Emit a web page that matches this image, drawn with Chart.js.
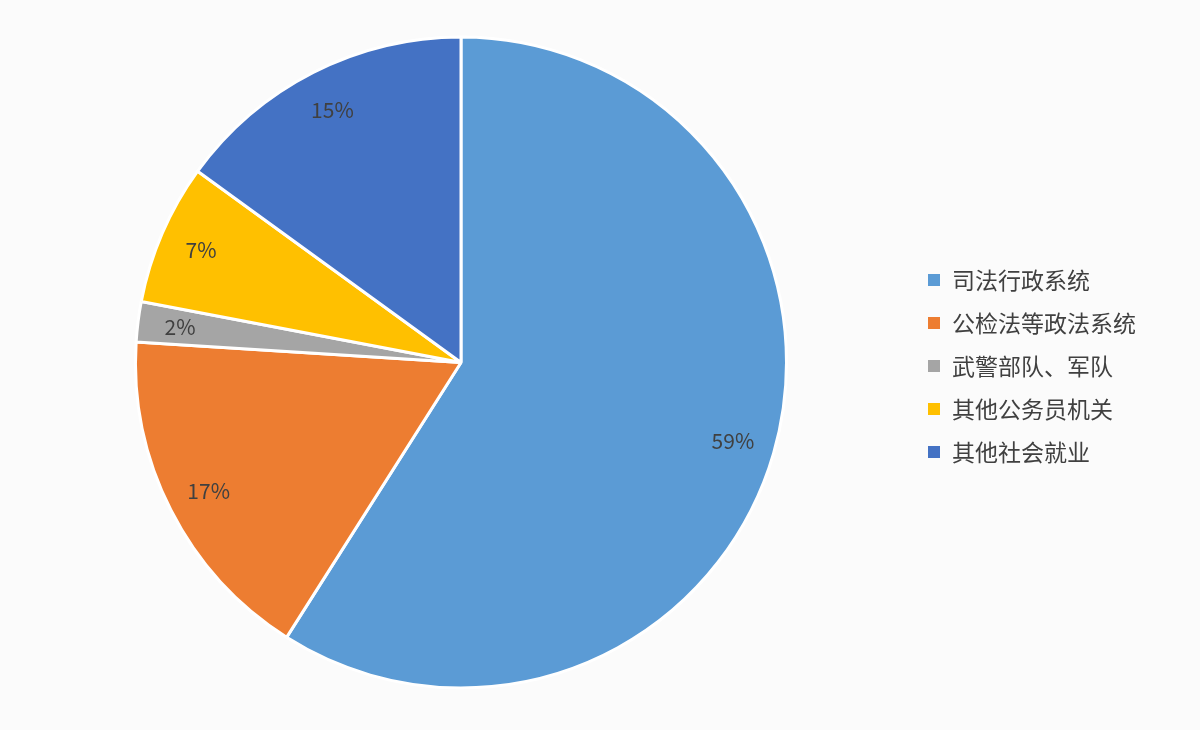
<!DOCTYPE html>
<html><head><meta charset="utf-8">
<script src="https://cdn.jsdelivr.net/npm/chart.js@4"></script>
<style>html,body{margin:0;background:#fbfbfb}#w{width:1200px;height:730px;position:relative}</style>
</head><body><div id="w"><canvas id="c"></canvas></div>
<script>
const categories=['司法行政系统','公检法等政法系统','武警部队、军队','其他公务员机关','其他社会就业'];
const values=[59,17,2,7,15];
const colors=['#5b9bd5','#ed7d31','#a5a5a5','#ffc000','#4472c4'];
const labelsPlugin={id:'lbl',afterDatasetsDraw(ch){
  const ctx=ch.ctx,meta=ch.getDatasetMeta(0);
  ctx.save();ctx.font='21px "Noto Sans CJK SC", sans-serif';ctx.fillStyle='#404040';ctx.textAlign='center';ctx.textBaseline='middle';
  meta.data.forEach((a,i)=>{const m=(a.startAngle+a.endAngle)/2,r=a.outerRadius*0.87;
    ctx.fillText(values[i]+'%',a.x+Math.cos(m)*r,a.y+Math.sin(m)*r);});
  ctx.textAlign='left';ctx.font='23px "Noto Sans CJK SC", sans-serif';
  categories.forEach((c,i)=>{const y=280+i*43;ctx.fillStyle=colors[i];ctx.fillRect(928,y-6,12,12);
    ctx.fillStyle='#404040';ctx.fillText(c,952,y);});
  ctx.restore();}};
new Chart(document.getElementById('c'),{type:'pie',
 data:{labels:categories,datasets:[{data:values,backgroundColor:colors,borderColor:'#ffffff',borderWidth:3}]},
 options:{responsive:true,maintainAspectRatio:false,animation:false,
  layout:{padding:{left:134,right:412,top:35,bottom:40}},
  plugins:{legend:{display:false},tooltip:{enabled:false}}},
 plugins:[labelsPlugin]});
</script></body></html>
